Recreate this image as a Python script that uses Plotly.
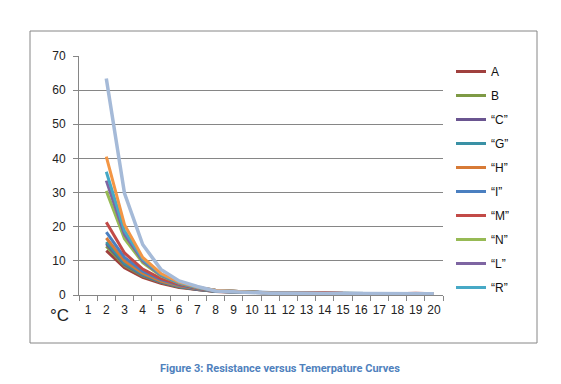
import plotly.graph_objects as go

categories = [str(i) for i in range(1, 21)]
x_points = [str(i) for i in range(2, 21)]

series_names = ["A", "B", "\u201cC\u201d", "\u201cG\u201d", "\u201cH\u201d", "\u201cI\u201d", "\u201cM\u201d", "\u201cN\u201d", "\u201cL\u201d", "\u201cR\u201d", "S", "T"]

A = [13.0, 8.0, 5.2, 3.4, 2.2, 1.5, 1.0, 0.8, 0.7, 0.5, 0.5, 0.5, 0.5, 0.4, 0.4, 0.4, 0.4, 0.4, 0.4]
B = [14.3, 8.6, 5.6, 3.7, 2.4, 1.6, 1.1, 0.9, 0.7, 0.6, 0.5, 0.5, 0.5, 0.4, 0.4, 0.4, 0.4, 0.4, 0.4]
C = [15.0, 9.0, 5.8, 3.8, 2.5, 1.6, 1.1, 0.9, 0.7, 0.6, 0.5, 0.5, 0.5, 0.4, 0.4, 0.4, 0.4, 0.4, 0.4]
G = [15.5, 9.3, 6.0, 3.9, 2.5, 1.7, 1.1, 0.9, 0.7, 0.6, 0.5, 0.5, 0.5, 0.4, 0.4, 0.4, 0.4, 0.4, 0.4]
H = [16.7, 10.0, 6.4, 4.1, 2.7, 1.8, 1.2, 0.9, 0.8, 0.6, 0.5, 0.5, 0.5, 0.4, 0.4, 0.5, 0.4, 0.4, 0.4]
I = [18.4, 11.0, 7.0, 4.5, 2.9, 1.9, 1.2, 1.0, 0.8, 0.6, 0.6, 0.5, 0.5, 0.4, 0.4, 0.4, 0.4, 0.4, 0.4]
M = [21.3, 12.3, 7.6, 4.8, 3.1, 2.0, 1.3, 1.0, 0.8, 0.6, 0.6, 0.7, 0.7, 0.5, 0.4, 0.4, 0.4, 0.5, 0.4]
N = [30.5, 16.5, 9.5, 5.6, 3.4, 2.1, 1.3, 1.0, 0.8, 0.6, 0.5, 0.5, 0.5, 0.4, 0.4, 0.4, 0.4, 0.4, 0.4]
L = [33.5, 17.7, 10.0, 5.8, 3.5, 2.2, 1.4, 1.0, 0.8, 0.6, 0.5, 0.5, 0.5, 0.4, 0.4, 0.4, 0.4, 0.4, 0.4]
R = [36.1, 18.8, 10.5, 6.0, 3.6, 2.2, 1.4, 1.0, 0.8, 0.6, 0.5, 0.5, 0.5, 0.4, 0.4, 0.4, 0.4, 0.4, 0.4]
S = [40.5, 20.6, 11.0, 6.3, 3.8, 2.3, 1.4, 1.0, 0.8, 0.6, 0.5, 0.5, 0.5, 0.4, 0.4, 0.4, 0.4, 0.4, 0.4]
T = [63.4, 29.8, 14.8, 7.5, 4.1, 2.5, 1.2, 0.9, 0.8, 0.5, 0.5, 0.5, 0.5, 0.4, 0.4, 0.4, 0.4, 0.4, 0.4]

series_values = [A, B, C, G, H, I, M, N, L, R, S, T]
colors = ["#A0403E", "#7E9A45", "#6A5590", "#3A91A5", "#D77A36", "#4A7FC0",
          "#C24A47", "#97BA55", "#7E65A2", "#47A9C6", "#F39645", "#A5BAD8"]
in_legend = [True] * 10 + [False, False]

y_ticks = [0, 10, 20, 30, 40, 50, 60, 70]

fig = go.Figure()
for name, vals, col, leg in zip(series_names, series_values, colors, in_legend):
    fig.add_trace(go.Scatter(
        x=x_points, y=vals, mode="lines", name=name,
        line=dict(color=col, width=3.5 if name == "T" else 3),
        showlegend=leg, legendgroup=name,
    ))

W, H_ = 561, 384
ml, mr, mt, mb = 71, 126, 48, 97
pw = W - ml - mr
ph = H_ - mt - mb

def px(x):
    return (x - ml) / pw

def py(y):
    return (H_ - mb - y) / ph

fig.update_layout(
    width=W, height=H_,
    margin=dict(l=ml, r=mr, t=mt, b=mb),
    paper_bgcolor="white", plot_bgcolor="white",
    font=dict(family="Liberation Sans, Arial, sans-serif", size=12, color="#222"),
    legend=dict(
        x=px(443), y=py(49), xanchor="left", yanchor="top",
        font=dict(size=12, color="#111"),
        tracegroupgap=5, itemwidth=30, maxheight=320,
        bgcolor="rgba(0,0,0,0)",
    ),
    xaxis=dict(
        type="category", categoryorder="array", categoryarray=categories,
        range=[-0.5, 19.5], tickson="boundaries", ticks="outside", ticklen=5,
        tickcolor="#868686", showline=True, linecolor="#868686", linewidth=1,
        showgrid=False, tickfont=dict(size=12, color="#222"), tickangle=0,
        ticklabelstandoff=4,
    ),
    yaxis=dict(
        range=[0, 70], tickvals=y_ticks, ticks="outside", ticklen=5,
        tickcolor="#868686", showline=True, linecolor="#868686", linewidth=1,
        showgrid=True, gridcolor="#868686", gridwidth=1,
        tickfont=dict(size=12, color="#222"), zeroline=False,
        ticklabelstandoff=5,
    ),
    shapes=[dict(
        type="rect", xref="paper", yref="paper",
        x0=px(22), x1=px(529), y0=py(23), y1=py(335),
        line=dict(color="#868686", width=1), fillcolor="rgba(0,0,0,0)", layer="below",
    )],
    annotations=[
        dict(text="\u00b0C", xref="paper", yref="paper", x=px(51), y=py(307),
             xanchor="center", yanchor="middle", showarrow=False,
             font=dict(size=17, color="#222")),
        dict(text="<b>Figure 3: Resistance versus Temerpature Curves</b>",
             xref="paper", yref="paper", x=px(271.5), y=py(360),
             xanchor="center", yanchor="middle", showarrow=False,
             font=dict(family="Roboto, sans-serif", size=11, color="#4F81BD")),
    ],
)

fig.write_html("out.html")
